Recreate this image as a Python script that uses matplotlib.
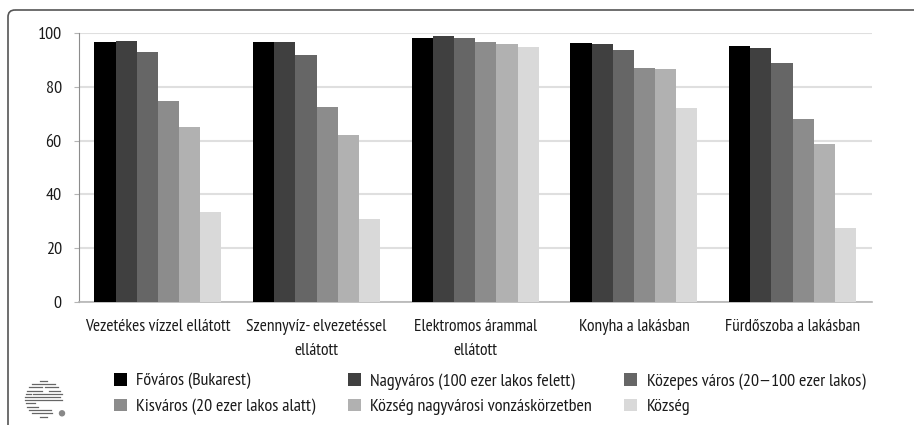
import numpy as np
import matplotlib
matplotlib.use('Agg')
import matplotlib.pyplot as plt
from matplotlib.patches import FancyBboxPatch, Circle
from matplotlib.transforms import Affine2D

plt.rcParams['font.family'] = ['PT Sans Narrow', 'Archivo Narrow', 'Liberation Sans', 'DejaVu Sans']

categories = ['Vezetékes vízzel ellátott', 'Szennyvíz- elvezetéssel\nellátott',
              'Elektromos árammal\nellátott', 'Konyha a lakásban', 'Fürdőszoba a lakásban']
series_names = ['Főváros (Bukarest)', 'Nagyváros (100 ezer lakos felett)',
                'Közepes város (20—100 ezer lakos)', 'Kisváros (20 ezer lakos alatt)',
                'Község nagyvárosi vonzáskörzetben', 'Község']
fovaros = [96.8, 96.5, 98.2, 96.2, 95.2]
nagyvaros = [97.2, 96.8, 99.0, 95.9, 94.5]
kozepes = [92.8, 91.7, 98.1, 93.7, 88.8]
kisvaros = [74.8, 72.6, 96.6, 86.9, 68.0]
kozseg_nv = [65.0, 62.2, 95.8, 86.6, 58.7]
kozseg = [33.5, 31.0, 94.9, 72.2, 27.5]
colors = ['#000000', '#404040', '#666666', '#8c8c8c', '#b1b1b1', '#d9d9d9']

W, H = 914, 425
fig = plt.figure(figsize=(W / 100, H / 100), dpi=100)
ax = fig.add_axes([78.5 / W, 1 - 302 / H, (872 - 78.5) / W, (302 - 33) / H])
px = Affine2D().scale(1, -1).translate(0, H)  # image pixels, y down

x = np.arange(5)
bar_w = 0.8 / 6
bars = []
for i, vals in enumerate([fovaros, nagyvaros, kozepes, kisvaros, kozseg_nv, kozseg]):
    b = ax.bar(x + (i - 2.5) * bar_w, vals, bar_w, color=colors[i], label=series_names[i], zorder=3)
    bars.append(b)

ax.set_xlim(-0.5, 4.5)
ax.set_ylim(0, 100)
ax.set_yticks([0, 20, 40, 60, 80, 100])
ax.set_xticks(x)
ax.set_xticklabels(categories, linespacing=1.7)
ax.grid(axis='y', color='#dfdfdf', lw=1.5, zorder=0)
ax.spines[['top', 'right']].set_visible(False)
ax.spines['left'].set_color('#8c8c8c')
ax.spines['bottom'].set_color('#b5b5b5')
ax.spines['bottom'].set_linewidth(1.2)
ax.tick_params(axis='y', length=3.6, color='#b5b5b5', labelsize=13, labelcolor='#1a1a1a', pad=8.5)
ax.tick_params(axis='x', length=0, labelsize=12.5, labelcolor='#1a1a1a', pad=12)

# legend fills by column, so reorder the handles
order = [0, 3, 1, 4, 2, 5]
fig.legend([bars[i] for i in order], [series_names[i] for i in order], ncol=3,
           loc='upper left', bbox_to_anchor=(114 / W, 1 - 373 / H), frameon=False,
           fontsize=13, handlelength=0.7, handleheight=0.7, handletextpad=0.53,
           labelspacing=0.5, columnspacing=1.8, labelcolor='#1a1a1a', borderpad=0, borderaxespad=0)

# rounded frame running off the right and bottom of the image
frame = FancyBboxPatch((8, 10), 1000, 500, boxstyle='round,pad=0,rounding_size=7',
                       fc='none', ec='#555555', lw=1.2, zorder=5)
frame.set_transform(px)
fig.add_artist(frame)

# logo
logo_rows = [(40, 47, 380.7), (32, 55, 384), (29, 42, 387.3), (45, 58, 387.3), (27, 42, 390.7),
             (49, 60, 390.7), (26, 31, 394), (33, 62, 394), (25, 60, 397), (25, 62, 400.3),
             (26, 35, 403.3), (27, 38, 406.7), (29, 51, 410), (32, 52, 413.3), (40, 47, 416.7)]
for x0, x1, y in logo_rows:
    fig.add_artist(plt.Line2D([x0, x1], [y, y], color='#666666', lw=0.9, transform=px))
fig.add_artist(Circle((62, 413.3), 2.5, color='#888888', transform=px))

fig.savefig('out.png', dpi=100)
